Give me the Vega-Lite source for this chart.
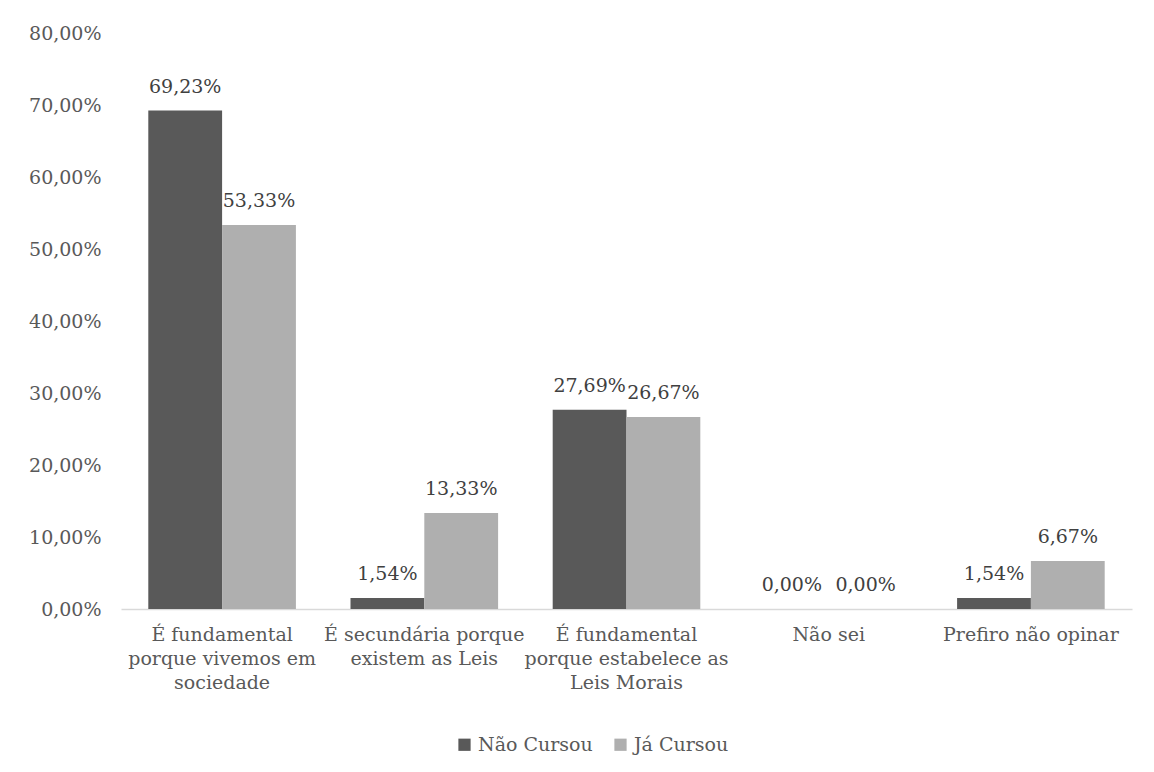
{
  "$schema": "https://vega.github.io/schema/vega-lite/v6.json",
  "autosize": {"type": "none"},
  "width": 1011,
  "height": 576,
  "padding": {"left": 121, "top": 33, "right": 22, "bottom": 163},
  "background": "white",
  "config": {
    "font": "DejaVu Serif",
    "view": {"stroke": null}
  },
  "data": {
    "values": [
      {"categoria": "É fundamental|porque vivemos em|sociedade", "grupo": "Não Cursou", "valor": 69.23},
      {"categoria": "É fundamental|porque vivemos em|sociedade", "grupo": "Já Cursou", "valor": 53.33},
      {"categoria": "É secundária porque|existem as Leis", "grupo": "Não Cursou", "valor": 1.54},
      {"categoria": "É secundária porque|existem as Leis", "grupo": "Já Cursou", "valor": 13.33},
      {"categoria": "É fundamental|porque estabelece as|Leis Morais", "grupo": "Não Cursou", "valor": 27.69},
      {"categoria": "É fundamental|porque estabelece as|Leis Morais", "grupo": "Já Cursou", "valor": 26.67},
      {"categoria": "Não sei", "grupo": "Não Cursou", "valor": 0},
      {"categoria": "Não sei", "grupo": "Já Cursou", "valor": 0},
      {"categoria": "Prefiro não opinar", "grupo": "Não Cursou", "valor": 1.54},
      {"categoria": "Prefiro não opinar", "grupo": "Já Cursou", "valor": 6.67}
    ]
  },
  "encoding": {
    "x": {
      "field": "categoria",
      "type": "nominal",
      "sort": null,
      "title": null,
      "scale": {"paddingInner": 0.27, "paddingOuter": 0.135},
      "axis": {
        "labelAngle": 0,
        "labelExpr": "split(datum.label, '|')",
        "labelFont": "DejaVu Serif",
        "labelFontSize": 19,
        "labelColor": "#595959",
        "labelLineHeight": 24,
        "labelPadding": 16,
        "ticks": false,
        "domainColor": "#d9d9d9",
        "domainWidth": 1.5,
        "labelLimit": 300
      }
    },
    "xOffset": {"field": "grupo", "type": "nominal", "sort": ["Não Cursou", "Já Cursou"]},
    "y": {
      "field": "valor",
      "type": "quantitative",
      "title": null,
      "scale": {"domain": [0, 80], "nice": false},
      "axis": {
        "values": [0, 10, 20, 30, 40, 50, 60, 70, 80],
        "labelExpr": "replace(format(datum.value, '.2f'), '.', ',') + '%'",
        "labelFont": "DejaVu Serif",
        "labelFontSize": 19,
        "labelColor": "#595959",
        "labelPadding": 20,
        "ticks": false,
        "domain": false,
        "grid": false
      }
    }
  },
  "layer": [
    {
      "mark": {"type": "bar"},
      "encoding": {
        "color": {
          "field": "grupo",
          "type": "nominal",
          "sort": ["Não Cursou", "Já Cursou"],
          "scale": {"domain": ["Não Cursou", "Já Cursou"], "range": ["#595959", "#afafaf"]},
          "legend": {
            "title": null,
            "orient": "none",
            "legendX": 334,
            "legendY": 702,
            "direction": "horizontal",
            "symbolType": "square",
            "symbolSize": 150,
            "symbolStrokeWidth": 0,
            "labelFont": "DejaVu Serif",
            "labelFontSize": 19,
            "labelColor": "#595959",
            "columnPadding": 18
          }
        }
      }
    },
    {
      "mark": {"type": "text", "baseline": "middle", "dy": -24, "font": "DejaVu Serif", "fontSize": 19, "color": "#404040"},
      "encoding": {
        "text": {"field": "label"}
      },
      "transform": [
        {"calculate": "replace(format(datum.valor, '.2f'), '.', ',') + '%'", "as": "label"}
      ]
    }
  ]
}
